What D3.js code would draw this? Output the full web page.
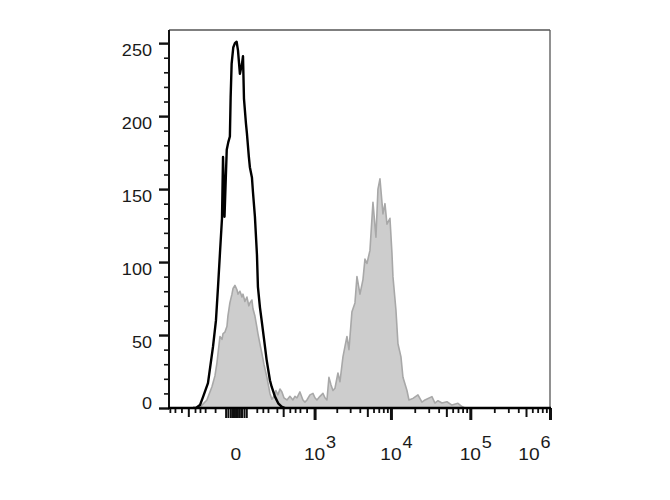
<!DOCTYPE html>
<html><head><meta charset="utf-8">
<script src="https://cdn.jsdelivr.net/npm/d3@7"></script>
<style>
body{margin:0;background:#fff;}
text{font-family:"Liberation Sans",Arial,sans-serif;fill:#1a1a1a;}
</style>
</head><body>
<svg id="chart" width="670" height="500"></svg>
<script>
// ---- data ----
const blackX = [-283,-250,-210,-183,-143,-108,-89.8,-78,-67.5,-57,-52,-45,-35,-28.6,-22,-19,-15.2,-9.3,-3.4,2.3,7,14,22,26,30,38.5,43,52,57,67.5,73,84,96,102,115,126.6,151,164,192,207.5,240,275,315,359];
const blackY = [0,0,2,7.5,17,42,60,83,106,130,172,131,177,182,186,213,236,247,250,251,245,229,236,241,212,195,188,172,165,158,148,131,105,83,69,60,42,33,19,14.6,7.8,3.2,1,0];

const grayX = [-210,-192,-151,-115,-96,-84,-67.5,-57,-52,-43,-34,-30,-22,-14,-10,-3.4,3.4,7,14,22,26,34,43,52,57,67.5,73,84,96,102,115,129,143,166.5,192,210,230,250,272,295,319,345,387,432,481,517,555,615,681,729,779,860,948,1011,1078,1187,1304,1389,1478,1573,1673,1780,1892,2074,2204,2414,2564,2724,2893,3165,3462,3675,4018,4392,4660,4945,5402,5902,6445,6836,7250,7916,8395,8900,9716,10300,10605,11576,12271,13392,14195,15948,16902,18986,21953,24656,26900,32935,35940,39200,44020,50880,58810,69970,78560,85650];
const grayY = [0,2,5.5,14.6,22,31,49,47,51,52,56,63,72,78,82,84,81,78,80,76,78,73,76,70,72,74,68,63,55,51,44,37,30,21,10,6,8,12,9,13,11,7,5.5,8,5.5,8,7,11,5.5,4,5.5,9,10,7,5.5,8,10,7,5.5,21,16,12,13.5,24,18,35,42,49,40,66,72,90,78,88,102,99,108,141,117,150,157,133,140,126,130,106,90,67,44,35,21,12,5.5,6.6,9,4,5.5,7.8,3.4,5,3.4,4.3,2,3.2,1,0];

const yMajorTicks = [0,50,100,150,200,250];
const yMinorTicks = [10,20,30,40,60,70,80,90,110,120,130,140,160,170,180,190,210,220,230,240];

const xLabelValues = [0,1e3,1e4,1e5,1e6];
const xLabelBase = ["0","10","10","10","10"];
const xLabelExp = ["","3","4","5","6"];

const xMajorTicks = [1e3,1e4,1e5,1e6];
const xMediumTicks = [-340,335,5000,50000,500000];
const xZeroTicks = [-40,-30,-20,-12,-5,0,5,12,20,30,40];
const xMinorTicks = [-660,-555,-440,-260,-210,-165,-95,95,135,175,260,430,520,615,770,
  2000,3000,4000,6000,7000,8000,9000,20000,30000,40000,60000,70000,80000,90000,
  200000,300000,400000,600000,700000,800000,900000];

// ---- layout ----
const pL = 169, pR = 550, pT = 30, pB = 408;
const stretch = 1.13;
const svg = d3.select("#chart");

const x = d3.scaleSymlog().constant(115).domain([-680, 1e6]).range([pL, pR]);
const y = d3.scaleLinear().domain([0, 259]).range([pB, pT]);

svg.append("clipPath").attr("id","plot").append("rect")
  .attr("x", pL).attr("y", pT).attr("width", pR-pL).attr("height", pB-pT);

const g = svg.append("g").attr("clip-path","url(#plot)");

const grayData = grayX.map((v,i)=>({x:v,y:grayY[i]}));
const blackData = blackX.map((v,i)=>({x:v,y:blackY[i]}));

g.append("path").datum(grayData)
  .attr("d", d3.area().x(d=>x(d.x)).y0(y(0)).y1(d=>y(d.y)))
  .attr("fill","#cdcdcd").attr("stroke","#a8a8a8").attr("stroke-width",1.6)
  .attr("stroke-linejoin","round");

g.append("path").datum(blackData)
  .attr("d", d3.line().x(d=>x(d.x)).y(d=>y(d.y)))
  .attr("fill","none").attr("stroke","#000").attr("stroke-width",2.4)
  .attr("stroke-linejoin","round");

// frame top/right
svg.append("line").attr("x1",pL).attr("x2",pR).attr("y1",pT).attr("y2",pT)
  .attr("stroke","#555").attr("stroke-width",1.3);
svg.append("line").attr("x1",pR).attr("x2",pR).attr("y1",pT).attr("y2",pB)
  .attr("stroke","#555").attr("stroke-width",1.3);

// y axis
function styleAxis(sel, w){
  sel.select(".domain").remove();
  sel.selectAll(".tick line").attr("stroke","#111").attr("stroke-width",w);
}
const yMinor = svg.append("g").attr("transform",`translate(${pL},0)`)
  .call(d3.axisLeft(y).tickValues(yMinorTicks).tickSize(5).tickFormat(""));
styleAxis(yMinor, 1.6);
const yMajor = svg.append("g").attr("transform",`translate(${pL},0)`)
  .call(d3.axisLeft(y).tickValues(yMajorTicks).tickSize(10).tickPadding(7).tickFormat(d3.format("d")));
styleAxis(yMajor, 2.4);
yMajor.selectAll("text")
  .attr("font-size",16).attr("fill","#1a1a1a")
  .style("font-family",'"Liberation Sans",Arial,sans-serif')
  .attr("x", null)
  .attr("dy", null)
  .attr("text-anchor","end")
  .attr("transform", d => `translate(-17,${d === 0 ? 0 : 12.5}) scale(${stretch},1)`);

svg.append("line").attr("x1",pL).attr("x2",pL).attr("y1",pT).attr("y2",pB+1)
  .attr("stroke","#111").attr("stroke-width",2);

// x axis
const xa = (vals, size, w) => {
  const a = svg.append("g").attr("transform",`translate(0,${pB})`)
    .call(d3.axisBottom(x).tickValues(vals).tickSize(size).tickFormat(""));
  styleAxis(a, w);
};
xa(xMinorTicks, 5, 1.8);
xa(xMediumTicks, 9, 2);
xa(xZeroTicks, 10, 2);
xa(xMajorTicks, 12, 3);

svg.append("line").attr("x1",pL-1).attr("x2",pR+1).attr("y1",pB).attr("y2",pB)
  .attr("stroke","#000").attr("stroke-width",2.6);

// x labels
xLabelValues.forEach((v,i)=>{
  let cx = x(v);
  if (i === xLabelValues.length-1) cx -= 21;
  svg.append("text").attr("text-anchor","middle")
    .attr("transform",`translate(${cx},460) scale(${stretch},1)`)
    .attr("font-size",17).text(xLabelBase[i]);
  if (xLabelExp[i]) {
    svg.append("text").attr("text-anchor","start")
      .attr("transform",`translate(${cx+11.5},448) scale(${stretch},1)`)
      .attr("font-size",16).text(xLabelExp[i]);
  }
});
</script>
</body></html>
